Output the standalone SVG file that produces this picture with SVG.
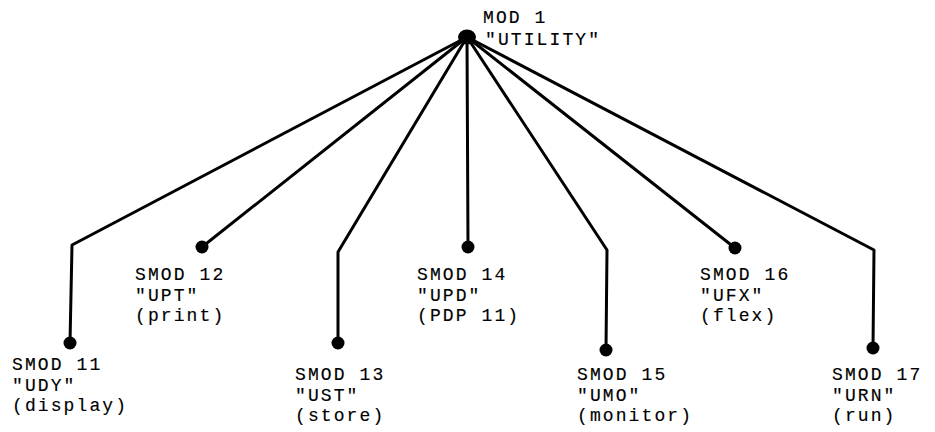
<svg xmlns="http://www.w3.org/2000/svg" width="935" height="432" viewBox="0 0 935 432">
  <style>
    .edge { fill: none; stroke: #000; stroke-width: 3; stroke-linejoin: round; stroke-linecap: round; }
    .dot { fill: #000; }
    .lbl { font-family: "Liberation Mono", "DejaVu Sans Mono", monospace; font-size: 18px; letter-spacing: 2.1px; fill: #000; stroke: #000; stroke-width: 0.15; }
  </style>
  <rect width="935" height="432" fill="#fff"/>

  <!-- connectors from the root module to each submodule -->
  <g id="connectors">
    <polyline class="edge" points="467,37 72,245 70,343"/>
    <polyline class="edge" points="467,37 202,247"/>
    <polyline class="edge" points="467,37 338,252 338,343"/>
    <polyline class="edge" points="467,37 468,247"/>
    <polyline class="edge" points="467,37 607,250 606,350"/>
    <polyline class="edge" points="467,37 735,248"/>
    <polyline class="edge" points="467,37 874,250 873,348"/>
  </g>

  <g id="mod1">
    <ellipse class="dot" cx="467" cy="37" rx="9" ry="7.5"/>
    <text class="lbl" x="483" y="23">MOD 1</text>
    <text class="lbl" x="485" y="45">"UTILITY"</text>
  </g>

  <g id="smod11">
    <circle class="dot" cx="70" cy="343" r="6.5"/>
    <text class="lbl" x="12" y="370">SMOD 11<tspan x="12" dy="20.5">"UDY"</tspan><tspan x="12" dy="20.5">(display)</tspan></text>
  </g>

  <g id="smod12">
    <circle class="dot" cx="202" cy="247" r="6.5"/>
    <text class="lbl" x="135" y="280">SMOD 12<tspan x="135" dy="20.5">"UPT"</tspan><tspan x="135" dy="20.5">(print)</tspan></text>
  </g>

  <g id="smod13">
    <circle class="dot" cx="338" cy="343" r="6.5"/>
    <text class="lbl" x="295" y="380">SMOD 13<tspan x="295" dy="20.5">"UST"</tspan><tspan x="295" dy="20.5">(store)</tspan></text>
  </g>

  <g id="smod14">
    <circle class="dot" cx="468" cy="247" r="6.5"/>
    <text class="lbl" x="417" y="280">SMOD 14<tspan x="417" dy="20.5">"UPD"</tspan><tspan x="417" dy="20.5">(PDP 11)</tspan></text>
  </g>

  <g id="smod15">
    <circle class="dot" cx="606" cy="350" r="6.5"/>
    <text class="lbl" x="577" y="380">SMOD 15<tspan x="577" dy="20.5">"UMO"</tspan><tspan x="577" dy="20.5">(monitor)</tspan></text>
  </g>

  <g id="smod16">
    <circle class="dot" cx="735" cy="248" r="6.5"/>
    <text class="lbl" x="700" y="280">SMOD 16<tspan x="700" dy="20.5">"UFX"</tspan><tspan x="700" dy="20.5">(flex)</tspan></text>
  </g>

  <g id="smod17">
    <circle class="dot" cx="873" cy="348" r="6.5"/>
    <text class="lbl" x="832" y="380">SMOD 17<tspan x="832" dy="20.5">"URN"</tspan><tspan x="832" dy="20.5">(run)</tspan></text>
  </g>
</svg>
